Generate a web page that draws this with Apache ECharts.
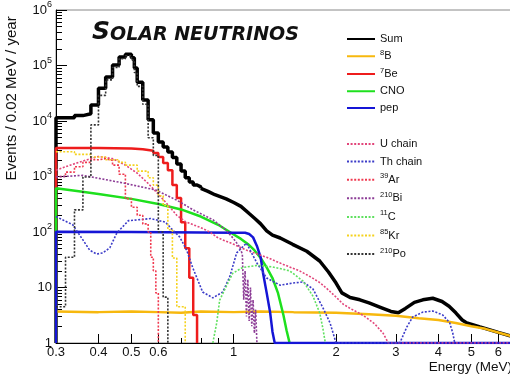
<!DOCTYPE html>
<html><head><meta charset="utf-8">
<script src="https://cdn.jsdelivr.net/npm/echarts@6.0.0/dist/echarts.min.js"></script>
<style>html,body{margin:0;padding:0;background:#fff}#c{width:510px;height:376px}</style>
</head><body><div id="c"></div>
<script>
// ---- data: [energy (MeV), events / 0.02 MeV / year] ----
const sumLow = [[0.30,1],[0.30,1.15e4],[0.34,1.25e4],[0.36,1.35e4],[0.38,1.95e4],[0.40,3.9e4],[0.42,6.2e4],[0.44,1.02e5],[0.46,1.43e5],[0.48,1.6e5],[0.50,1.38e5],[0.51,9.0e4],[0.52,5.0e4],[0.54,2.4e4],[0.56,1.05e4],[0.58,6.1e3],[0.60,4.2e3],[0.62,3.4e3],[0.64,2.75e3],[0.66,2.2e3],[0.68,1.68e3],[0.70,1.26e3],[0.72,950],[0.74,800],[0.76,705],[0.78,650],[0.80,610]];
const sumHigh = [[0.80,610],[0.84,540],[0.88,470],[0.95,395],[1.00,340],[1.05,290],[1.11,215],[1.16,170],[1.20,140],[1.25,105],[1.30,88],[1.37,78],[1.49,60],[1.64,45],[1.79,30],[1.90,19],[2.00,12],[2.08,8],[2.20,6.6],[2.35,6.0],[2.50,5.3],[2.70,4.4],[2.90,3.7],[3.05,3.5],[3.20,4.2],[3.40,5.4],[3.60,6.0],[3.85,6.4],[4.10,5.6],[4.30,4.6],[4.50,3.5],[4.70,2.6],[4.85,2.3],[5.30,1.95],[6.00,1.55],[6.50,1.35],[7.00,1.2]];
const b8 = [[0.30,3.7],[0.40,3.6],[0.50,3.7],[0.60,3.6],[0.70,3.5],[0.80,3.7],[1.00,3.6],[1.20,3.7],[1.50,3.6],[2.00,3.5],[2.50,3.3],[3.00,3.1],[3.50,2.8],[4.00,2.6],[4.50,2.3],[5.00,2.0],[5.50,1.8],[6.00,1.55],[6.50,1.35],[7.00,1.2]];
const be7 = [[0.30,1],[0.30,3250],[0.40,3200],[0.50,3100],[0.54,3000],[0.56,2900],[0.58,2650],[0.60,2250],[0.62,1750],[0.64,1300],[0.66,700],[0.68,410],[0.70,150],[0.72,51],[0.74,15],[0.76,3.2],[0.78,1]];
const cno = [[0.30,1],[0.30,612],[0.35,540],[0.40,485],[0.50,395],[0.60,320],[0.70,255],[0.80,190],[0.90,135],[1.00,90],[1.05,75],[1.10,61],[1.15,47],[1.20,34],[1.25,23],[1.30,14.8],[1.35,7.9],[1.40,3.2],[1.43,1.7],[1.46,1]];
const pep = [[0.30,1],[0.30,101],[0.50,100],[0.80,98],[1.00,97],[1.08,97],[1.11,92],[1.14,80],[1.17,56],[1.20,35],[1.22,18],[1.25,8],[1.28,3.5],[1.30,1.6],[1.32,1],[7.00,1]];
const uChain = [[0.30,1300],[0.33,1600],[0.36,1900],[0.40,2300],[0.44,2100],[0.48,1600],[0.52,1150],[0.56,750],[0.60,480],[0.64,310],[0.68,200],[0.72,155],[0.76,135],[0.80,120],[0.85,100],[0.90,78],[1.00,60],[1.10,46],[1.25,35],[1.40,26],[1.56,20],[1.70,15],[1.80,12],[1.90,9],[2.00,6.7],[2.10,5.0],[2.20,4.2],[2.35,3.4],[2.45,2.9],[2.60,2.2],[2.75,1.5],[2.85,1],[7.00,1]];
const thChain = [[0.30,190],[0.336,135],[0.36,72],[0.377,47],[0.395,40],[0.412,42],[0.432,52],[0.453,96],[0.49,160],[0.52,165],[0.57,175],[0.63,150],[0.662,108],[0.694,81],[0.727,47],[0.757,23],[0.81,8.3],[0.868,6.5],[0.928,8.3],[0.973,15.5],[1.02,42],[1.09,63],[1.17,27.6],[1.25,14.8],[1.37,11],[1.49,12],[1.60,12.6],[1.71,9.4],[1.83,4.3],[1.92,2.3],[2.00,1],[3.08,1],[3.23,1.94],[3.36,2.94],[3.60,3.6],[3.85,3.77],[4.12,3.2],[4.32,2.3],[4.41,1.5],[4.47,1]];
const ar39 = [[0.30,1000],[0.32,1200],[0.34,1500],[0.36,1800],[0.38,2000],[0.40,2100],[0.42,1950],[0.44,1600],[0.46,1100],[0.48,400],[0.50,280],[0.52,200],[0.54,140],[0.56,100],[0.57,35],[0.58,20],[0.59,8],[0.60,1]];
const bi210 = [[0.30,980],[0.36,1050],[0.47,770],[0.59,570],[0.68,375],[0.76,250],[0.87,165],[0.95,108],[1.00,75],[1.04,54],[1.06,40],[1.07,6],[1.08,20],[1.09,3],[1.10,14],[1.11,2.5],[1.12,10],[1.13,2],[1.14,6],[1.15,1.5],[1.16,4],[1.17,1]];
const c11 = [[0.868,1],[0.891,2.3],[0.909,5.9],[0.954,11],[0.993,18],[1.063,23],[1.17,25],[1.30,23.5],[1.46,20],[1.60,13],[1.71,7],[1.79,3.5],[1.83,1.8],[1.86,1]];
const kr85 = [[0.30,2800],[0.34,2500],[0.38,2250],[0.42,2000],[0.46,1800],[0.48,1600],[0.52,1250],[0.56,950],[0.58,700],[0.60,450],[0.62,300],[0.64,110],[0.66,34],[0.68,4.5],[0.72,1]];
const po210 = [[0.30,4.5],[0.32,35],[0.34,250],[0.36,980],[0.38,8500],[0.40,2.9e4],[0.42,5.5e4],[0.44,9.2e4],[0.46,1.32e5],[0.48,1.5e5],[0.50,1.25e5],[0.51,7.5e4],[0.52,4.2e4],[0.54,2.0e4],[0.56,5e3],[0.58,2.4e3],[0.60,100],[0.62,6.7],[0.64,1]];

const xLabelTicks = [0.3,0.4,0.5,0.6,1,2,3,4,5,6];
const xMinorTicks = [0.7,0.8,0.9,7];
const yMajorTicks = [1,10,100,1e3,1e4,1e5,1e6];
const yMinorTicks = [];
for (let k = 0; k < 6; k++) for (let m = 2; m <= 9; m++) yMinorTicks.push(m * Math.pow(10, k));

const legendLabels = {'Sum':'Sum','8B':'{s|8}{b|B}','7Be':'{s|7}{b|Be}','CNO':'CNO','pep':'pep',
  'U chain':'U chain','Th chain':'Th chain','39Ar':'{s|39}{b|Ar}','210Bi':'{s|210}{b|Bi}','11C':'{s|11}{b|C}','85Kr':'{s|85}{b|Kr}','210Po':'{s|210}{b|Po}'};

const FONT = 'Liberation Sans';
function solid(name, data, color, width, step) {
  return {name, type:'line', data, step: step || false, symbol:'none', showSymbol:false, animation:false,
    lineStyle:{color, width}, itemStyle:{color}};
}
function dotted(name, data, color, step) {
  return {name, type:'line', data, step: step || false, symbol:'none', showSymbol:false, animation:false,
    lineStyle:{color, width:1.6, type:[2,1.6]}, itemStyle:{color}};
}
const legendBase = {orient:'vertical', left:346, padding:0, itemWidth:28, itemHeight:14,
  formatter: n => legendLabels[n],
  itemStyle:{color:'rgba(0,0,0,0)', borderWidth:0, opacity:0},
  textStyle:{fontSize:11, fontFamily:FONT, color:'#111', lineHeight:14,
    rich:{s:{fontSize:7.5, fontFamily:FONT, color:'#111', verticalAlign:'top', lineHeight:8},
          b:{fontSize:11, fontFamily:FONT, color:'#111', lineHeight:15}}}};

const chart = echarts.init(document.getElementById('c'), null, {renderer:'canvas'});
chart.setOption({
  backgroundColor:'#fff',
  animation:false,
  title:{text:'{a|S}{b|OLAR NEUTRINOS}', left:87, top:13,
    textStyle:{rich:{
      a:{fontSize:25, fontWeight:'bold', fontStyle:'italic', fontFamily:'DejaVu Sans', color:'#111', verticalAlign:'bottom', lineHeight:27},
      b:{fontSize:19, fontWeight:'bold', fontStyle:'italic', fontFamily:'DejaVu Sans', color:'#111', verticalAlign:'bottom', lineHeight:21}}}},
  grid:{left:56, right:-11, top:10, bottom:33, show:true, borderColor:'#888', borderWidth:1, outerBoundsMode:'none', containLabel:false},
  legend:[
    Object.assign({}, legendBase, {top:32, itemGap:2.75, data:['Sum','8B','7Be','CNO','pep']}),
    Object.assign({}, legendBase, {top:137, itemGap:3.6, data:['U chain','Th chain','39Ar','210Bi','11C','85Kr','210Po']})
  ],
  xAxis:[
    {type:'log', logBase:10, min:0.3, max:7, position:'bottom',
      axisLine:{show:true, onZero:false, lineStyle:{color:'#000', width:1}},
      axisTick:{show:true, inside:true, length:9, customValues:xLabelTicks, lineStyle:{color:'#000'}},
      axisLabel:{show:true, customValues:xLabelTicks, margin:3, fontSize:13, fontFamily:FONT, color:'#111',
        formatter: v => String(parseFloat(Number(v).toPrecision(3)))},
      splitLine:{show:false}, minorTick:{show:false},
      name:'Energy (MeV)', nameLocation:'end', nameGap:-9,
      nameTextStyle:{align:'right', verticalAlign:'top', padding:[17,0,0,0], fontSize:13.5, fontFamily:FONT, color:'#111'}},
    {type:'log', logBase:10, min:0.3, max:7, position:'bottom',
      axisLine:{show:false}, axisLabel:{show:false}, splitLine:{show:false},
      axisTick:{show:true, inside:true, length:5, customValues:xMinorTicks, lineStyle:{color:'#000'}}}
  ],
  yAxis:[
    {type:'log', logBase:10, min:1, max:1e6, position:'left',
      axisLine:{show:true, lineStyle:{color:'#000', width:1}},
      axisTick:{show:true, inside:true, length:11, customValues:yMajorTicks, lineStyle:{color:'#000'}},
      axisLabel:{show:true, customValues:yMajorTicks, margin:4, fontSize:13, fontFamily:FONT, color:'#111',
        formatter: v => { const e = Math.round(Math.log10(v)); if (e === 0) return '{b|1}'; if (e === 1) return '{b|10}'; return '{b|10}{s|' + e + '}'; },
        rich:{b:{fontSize:13, fontFamily:FONT, color:'#111', lineHeight:19},
              s:{fontSize:9, fontFamily:FONT, color:'#111', verticalAlign:'top', lineHeight:9}}},
      splitLine:{show:false}, minorTick:{show:false},
      name:'Events / 0.02 MeV / year', nameLocation:'middle', nameGap:37,
      nameTextStyle:{fontSize:15, fontFamily:FONT, color:'#111', padding:[0,0,0,156]}},
    {type:'log', logBase:10, min:1, max:1e6, position:'left',
      axisLine:{show:false}, axisLabel:{show:false}, splitLine:{show:false},
      axisTick:{show:true, inside:true, length:6, customValues:yMinorTicks, lineStyle:{color:'#000'}}}
  ],
  series:[
    solid('Sum', sumLow, '#000', 3.5, 'end'),
    solid('Sum', sumHigh, '#000', 3.5),
    solid('8B', b8, '#f7b80e', 2.5),
    solid('7Be', be7, '#ee1c1c', 2.5, 'end'),
    solid('CNO', cno, '#1ee01e', 2.5),
    solid('pep', pep, '#1515d6', 2.5),
    dotted('U chain', uChain, '#e2457a'),
    dotted('Th chain', thChain, '#3c3cc8'),
    dotted('39Ar', ar39, '#f03a50', 'end'),
    dotted('210Bi', bi210, '#8c3c96'),
    dotted('11C', c11, '#5fe05f'),
    dotted('85Kr', kr85, '#f5d21e', 'end'),
    dotted('210Po', po210, '#333333', 'end')
  ]
});
</script></body></html>
